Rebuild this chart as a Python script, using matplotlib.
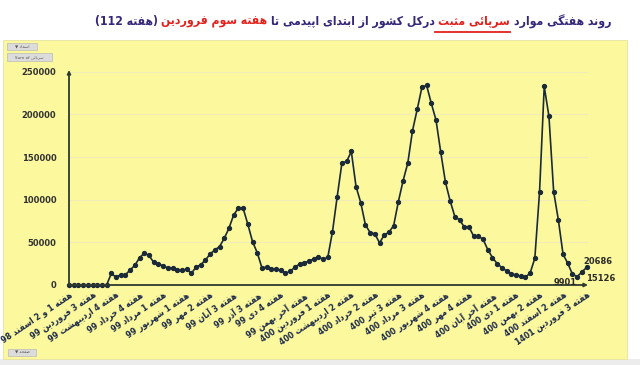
import re
import matplotlib
matplotlib.use("Agg")
import matplotlib.pyplot as plt
from matplotlib.patches import Rectangle
from matplotlib.lines import Line2D
from matplotlib import font_manager as fm

plt.rcParams['font.family'] = ['DejaVu Sans']

# ---------------- data ----------------
weekly_cases = [
    0, 0, 0, 0, 0, 0, 0, 0, 0, 13700,
    9000, 12100, 12100, 17600, 23100, 32000, 37200, 34800, 26400, 24600,
    22500, 20000, 19500, 17000, 17000, 18600, 13700, 20800, 23800, 29300,
    36400, 41100, 45000, 54800, 66600, 82200, 90000, 90000, 71300, 50900,
    37900, 20300, 20800, 18400, 18400, 17600, 13700, 16000, 20800, 24600,
    25400, 28500, 30100, 33200, 30100, 32500, 62600, 103700, 142900, 144800,
    156500, 115400, 96600, 70400, 61400, 60000, 49300, 58700, 61800, 69700,
    97800, 122100, 142900, 180800, 205800, 231600, 234000, 212900, 193300, 155800,
    120600, 98600, 80200, 76300, 68100, 68100, 57200, 57200, 53500, 41500,
    32100, 25000, 20300, 16400, 13300, 11700, 10200, 9000, 14100, 31300,
    108800, 232800, 197600, 109500, 76300, 36000, 25400, 12600, 9901, 15126,
    20686,
]
tick_labels = [
    "هفته 1 و 2 اسفند 98", "هفته 3 فروردین 99", "هفته 4 اردیبهشت 99",
    "هفته 4 خرداد 99", "هفته 1 مرداد 99", "هفته 1 شهریور 99", "هفته 2 مهر 99",
    "هفته 3 آبان 99", "هفته 3 آذر 99", "هفته 4 دی 99", "هفته آخر بهمن 99",
    "هفته 1 فروردین 400", "هفته 2 اردیبهشت 400", "هفته 2 خرداد 400",
    "هفته 3 تیر 400", "هفته 3 مرداد 400", "هفته 4 شهریور 400", "هفته 4 مهر 400",
    "هفته آخر آبان 400", "هفته 1 دی 400", "هفته 2 بهمن 400", "هفته 2 اسفند 400",
    "هفته 3 فروردین 1401",
]
tick_step = 5
y_ticks = [0, 50000, 100000, 150000, 200000, 250000]
annotated = [(108, "9901"), (109, "15126"), (110, "20686")]
title_parts = [  # logical (right-to-left) order: text, colour key, underline
    ("روند هفتگی موارد", "main", False),
    ("سرپائی مثبت", "red", True),
    ("درکل کشور از ابتدای اپیدمی تا", "main", False),
    ("هفته سوم فروردین", "red", False),
    ("(هفته 112)", "main", False),
]

# ---------------- minimal Arabic/Persian shaping + visual ordering ----------------
F = {  # isolated, final, initial, medial
    '\u0627': ('\uFE8D', '\uFE8E', None, None), '\u0622': ('\uFE81', '\uFE82', None, None),
    '\u0628': ('\uFE8F', '\uFE90', '\uFE91', '\uFE92'), '\u067E': ('\uFB56', '\uFB57', '\uFB58', '\uFB59'),
    '\u062A': ('\uFE95', '\uFE96', '\uFE97', '\uFE98'), '\u062B': ('\uFE99', '\uFE9A', '\uFE9B', '\uFE9C'),
    '\u062C': ('\uFE9D', '\uFE9E', '\uFE9F', '\uFEA0'), '\u0686': ('\uFB7A', '\uFB7B', '\uFB7C', '\uFB7D'),
    '\u062D': ('\uFEA1', '\uFEA2', '\uFEA3', '\uFEA4'), '\u062E': ('\uFEA5', '\uFEA6', '\uFEA7', '\uFEA8'),
    '\u062F': ('\uFEA9', '\uFEAA', None, None), '\u0630': ('\uFEAB', '\uFEAC', None, None),
    '\u0631': ('\uFEAD', '\uFEAE', None, None), '\u0632': ('\uFEAF', '\uFEB0', None, None),
    '\u0698': ('\uFB8A', '\uFB8B', None, None),
    '\u0633': ('\uFEB1', '\uFEB2', '\uFEB3', '\uFEB4'), '\u0634': ('\uFEB5', '\uFEB6', '\uFEB7', '\uFEB8'),
    '\u0635': ('\uFEB9', '\uFEBA', '\uFEBB', '\uFEBC'), '\u0636': ('\uFEBD', '\uFEBE', '\uFEBF', '\uFEC0'),
    '\u0637': ('\uFEC1', '\uFEC2', '\uFEC3', '\uFEC4'), '\u0638': ('\uFEC5', '\uFEC6', '\uFEC7', '\uFEC8'),
    '\u0639': ('\uFEC9', '\uFECA', '\uFECB', '\uFECC'), '\u063A': ('\uFECD', '\uFECE', '\uFECF', '\uFED0'),
    '\u0641': ('\uFED1', '\uFED2', '\uFED3', '\uFED4'), '\u0642': ('\uFED5', '\uFED6', '\uFED7', '\uFED8'),
    '\u06A9': ('\uFB8E', '\uFB8F', '\uFB90', '\uFB91'), '\u06AF': ('\uFB92', '\uFB93', '\uFB94', '\uFB95'),
    '\u0644': ('\uFEDD', '\uFEDE', '\uFEDF', '\uFEE0'), '\u0645': ('\uFEE1', '\uFEE2', '\uFEE3', '\uFEE4'),
    '\u0646': ('\uFEE5', '\uFEE6', '\uFEE7', '\uFEE8'), '\u0647': ('\uFEE9', '\uFEEA', '\uFEEB', '\uFEEC'),
    '\u0648': ('\uFEED', '\uFEEE', None, None), '\u06CC': ('\uFBFC', '\uFBFD', '\uFBFE', '\uFBFF'),
    '\u0626': ('\uFE89', '\uFE8A', '\uFE8B', '\uFE8C'), '\u064A': ('\uFEF1', '\uFEF2', '\uFEF3', '\uFEF4'),
}
MIRROR = {'(': ')', ')': '('}


def shape_word(w):
    out = []
    for i, ch in enumerate(w):
        if ch not in F:
            out.append(ch)
            continue
        iso, fin, ini, med = F[ch]
        prev = w[i - 1] if i > 0 else None
        nxt = w[i + 1] if i + 1 < len(w) else None
        jp = prev in F and F[prev][2] is not None
        jn = nxt in F and ini is not None
        out.append(med if (jp and jn) else fin if jp else ini if jn else iso)
    return ''.join(out)


def rtl(s):
    runs = re.findall(r'[0-9]+|[\u0600-\u06FF]+|\s+|.', s)
    vis = []
    for r in reversed(runs):
        if re.match(r'[\u0600-\u06FF]', r):
            vis.append(shape_word(r)[::-1])
        elif r in MIRROR:
            vis.append(MIRROR[r])
        else:
            vis.append(r)
    return ''.join(vis)


# condensed bold face if available (falls back to regular DejaVu Sans Bold)
cond_bold = fm.FontProperties(family='DejaVu Sans', weight='bold', stretch='condensed')

# ---------------- figure ----------------
W, H = 640, 365
fig = plt.figure(figsize=(W / 100, H / 100), dpi=100)
fig.patch.set_facecolor('white')

def px_rect(x0, y0, x1, y1, z=-2, **kw):
    fig.patches.append(Rectangle((x0 / W, 1 - y1 / H), (x1 - x0) / W, (y1 - y0) / H,
                                 transform=fig.transFigure, figure=fig, zorder=z, **kw))

px_rect(0, 359, 640, 365, facecolor='#ececec', edgecolor='none')
px_rect(3, 40, 627, 359, facecolor='#FBF89D', edgecolor='#e6e2a0', lw=0.6)

# pivot-chart buttons
for (x0, y0, x1, y1, txt) in [(7, 43, 37, 50, "اسماد ▼"), (7, 53, 52, 61, None),
                              (8, 349, 36, 356, "صفحه ▼")]:
    px_rect(x0, y0, x1, y1, z=-1, facecolor='#dcdcdc', edgecolor='#b0b0b0', lw=0.4)
    label = rtl(txt) if txt else "Sum of " + rtl("سرپائی")
    fig.text(((x0 + x1) / 2) / W, 1 - ((y0 + y1) / 2) / H, label,
             fontsize=3, color='#555555', ha='center', va='center')

ax_left, ax_right, ax_top, ax_bottom = 69, 588, 70, 285
ax = fig.add_axes([ax_left / W, 1 - ax_bottom / H, (ax_right - ax_left) / W, (ax_bottom - ax_top) / H])
ax.set_facecolor('none')
ax.set_zorder(2)

x = list(range(len(weekly_cases)))
ax.plot(x, weekly_cases, color='#1b2a38', lw=1.2, marker='o', ms=2.8,
        markerfacecolor='#1b2a38', markeredgecolor='#1b2a38', clip_on=False, zorder=3)

ax.set_xlim(0, 110.3)
ax.set_ylim(0, 252000)
for sp in ax.spines.values():
    sp.set_visible(False)

ax.set_yticks(y_ticks)
ax.set_yticklabels([str(v) for v in y_ticks], fontsize=6, fontweight='bold', color='#333333')
ax.tick_params(axis='y', length=0, pad=9)
ax.yaxis.grid(True, color='#f1ecb8', lw=0.8)
ax.set_axisbelow(True)

ticks = list(range(0, len(weekly_cases), tick_step))
ax.set_xticks(ticks)
ax.set_xticklabels([rtl(t) for t in tick_labels], rotation=34, ha='right', va='top',
                   rotation_mode='anchor', fontproperties=cond_bold, color='#1d2a4a')
for lab in ax.get_xticklabels():
    lab.set_fontsize(6.3)
ax.tick_params(axis='x', length=0, pad=4)

# axis arrows
arrow_kw = dict(arrowstyle='-|>', color='#2e3a30', lw=1.3, mutation_scale=5, shrinkA=0, shrinkB=0)
ax.annotate('', xy=(1.0, 0), xytext=(0, 0), xycoords='axes fraction', arrowprops=arrow_kw, zorder=4)
ax.annotate('', xy=(0, 1.0), xytext=(0, 0), xycoords='axes fraction', arrowprops=arrow_kw, zorder=4)

# end annotations
offs = {"9901": ((0, -4.6), 'right', 'center'),
        "15126": ((3, -4.8), 'left', 'center'),
        "20686": ((-2, 1), 'left', 'bottom')}
for i, lab in annotated:
    (dx, dy), ha, va = offs[lab]
    ax.annotate(lab, xy=(i, weekly_cases[i]), xytext=(dx, dy), textcoords='offset points',
                ha=ha, va=va, fontsize=6, fontweight='bold', color='#2b2b2b', zorder=5)

# title (drawn left-to-right in visual order), scaled to span ~95..612 px
colors = {"main": '#35267a', "red": '#e3211c'}
fig.canvas.draw()
renderer = fig.canvas.get_renderer()
target_w = 517
cx, cy = 353, 22
fs = 13
items = []
for txt, ck, ul in reversed(title_parts):
    t = fig.text(0, 0, rtl(txt), fontproperties=cond_bold, color=colors[ck],
                 ha='left', va='center', transform=None)
    t.set_fontsize(fs)
    items.append((t, ul, ck))
for _ in range(3):
    space_px = fs * 0.4
    widths = [t.get_window_extent(renderer).width for t, _, _ in items]
    total = sum(widths) + space_px * (len(items) - 1)
    fs = fs * target_w / total
    for t, _, _ in items:
        t.set_fontsize(fs)
space_px = fs * 0.4
widths = [t.get_window_extent(renderer).width for t, _, _ in items]
total = sum(widths) + space_px * (len(items) - 1)
xcur = cx - total / 2
for (t, ul, ck), w in zip(items, widths):
    t.set_position((xcur, H - cy))
    if ul:
        fig.lines.append(Line2D([(xcur - space_px) / W, (xcur + w) / W],
                                [1 - (cy + 10) / H] * 2, transform=fig.transFigure,
                                color=colors[ck], lw=1.3))
    xcur += w + space_px

fig.savefig('out.png', dpi=100)
